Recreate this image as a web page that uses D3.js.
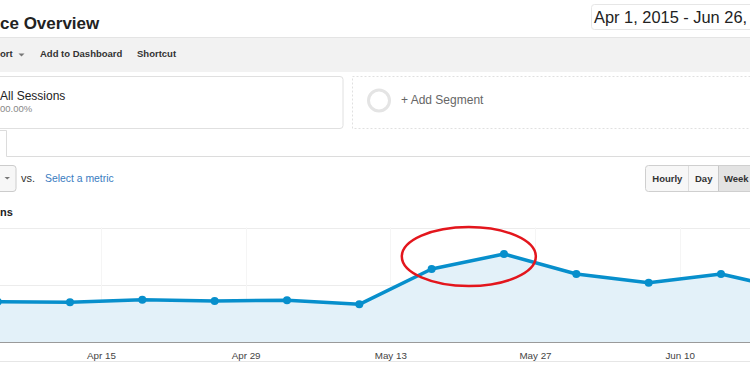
<!DOCTYPE html>
<html>
<head>
<meta charset="utf-8">
<script src="https://cdn.jsdelivr.net/npm/d3@7/dist/d3.min.js"></script>
<style>
  html, body { margin: 0; padding: 0; background: #fff; overflow: hidden; }
  svg { display: block; font-family: Arial, "Liberation Sans", sans-serif; }
</style>
</head>
<body>
<svg id="chart" width="750" height="366"></svg>
<script>
// ---- data ----
const weekStarts = ["2015-04-01","2015-04-05","2015-04-12","2015-04-19","2015-04-26","2015-05-03",
                    "2015-05-10","2015-05-17","2015-05-24","2015-05-31","2015-06-07","2015-06-14","2015-06-21"];
const sessions   = [45, 71, 70, 74.4, 72.2, 73.4, 66.4, 127.8, 153.9, 119.1, 104, 119.1, 90.3];
const tickDates  = ["2015-04-15","2015-04-29","2015-05-13","2015-05-27","2015-06-10"];
const tickLabels = ["Apr 15","Apr 29","May 13","May 27","Jun 10"];
const yTicks     = [100, 200];
const dateRange  = ["2015-04-01","2015-06-26"];

const parse = d3.utcParse("%Y-%m-%d");
const data = weekStarts.map((d, i) => ({ date: parse(d), value: sessions[i] }));

const svg = d3.select("#chart");

// ---- page chrome ----
svg.append("text").attr("x", 0).attr("y", 29).attr("font-size", 17).attr("font-weight", "bold")
   .attr("fill", "#222").text("ce Overview");

svg.append("rect").attr("x", 591.5).attr("y", 4.5).attr("width", 180).attr("height", 25).attr("rx", 3)
   .attr("fill", "#fff").attr("stroke", "#e6e6e6");
svg.append("text").attr("x", 594).attr("y", 22.7).attr("font-size", 16.4).attr("fill", "#222")
   .text("Apr 1, 2015 - Jun 26,");

// toolbar
svg.append("rect").attr("x", 0).attr("y", 37).attr("width", 750).attr("height", 35).attr("fill", "#f2f2f2");
svg.append("line").attr("x1", 0).attr("x2", 750).attr("y1", 37.5).attr("y2", 37.5).attr("stroke", "#e4e4e4");
const tb = svg.append("g").attr("font-size", 9.5).attr("font-weight", "bold").attr("fill", "#333");
tb.append("text").attr("x", 0).attr("y", 56.7).text("ort");
tb.append("path").attr("d", "M18.5,53.5 L24.5,53.5 L21.5,56.5 Z").attr("fill", "#777");
tb.append("text").attr("x", 40).attr("y", 56.7).text("Add to Dashboard");
tb.append("text").attr("x", 137).attr("y", 56.7).text("Shortcut");

// segment boxes
svg.append("rect").attr("x", -10).attr("y", 76.5).attr("width", 353).attr("height", 52).attr("rx", 3)
   .attr("fill", "#fff").attr("stroke", "#e0e0e0");
svg.append("text").attr("x", 0).attr("y", 99.5).attr("font-size", 12).attr("fill", "#222").text("All Sessions");
svg.append("text").attr("x", 0).attr("y", 112).attr("font-size", 9.5).attr("fill", "#888").text("00.00%");

svg.append("rect").attr("x", 352.5).attr("y", 76.5).attr("width", 420).attr("height", 52)
   .attr("fill", "none").attr("stroke", "#e0e0e0").attr("stroke-dasharray", "2,2");
svg.append("circle").attr("cx", 379).attr("cy", 100.5).attr("r", 10.5)
   .attr("fill", "none").attr("stroke", "#e4e4e4").attr("stroke-width", 3);
svg.append("text").attr("x", 401).attr("y", 104).attr("font-size", 12).attr("fill", "#666").text("+ Add Segment");

// tab
svg.append("path").attr("d", "M-5,130.5 H6.5 V156.5 H750").attr("fill", "none").attr("stroke", "#dcdcdc");

// metric selector
svg.append("rect").attr("x", -10).attr("y", 165.5).attr("width", 26).attr("height", 26).attr("rx", 3)
   .attr("fill", "#f7f7f7").attr("stroke", "#ccc");
svg.append("path").attr("d", "M4.5,177 L10,177 L7.25,179.5 Z").attr("fill", "#777");
svg.append("text").attr("x", 21).attr("y", 181.7).attr("font-size", 11).attr("fill", "#333").text("vs.");
svg.append("text").attr("x", 45).attr("y", 181.7).attr("font-size", 10.4).attr("fill", "#3a7cbf").text("Select a metric");

// granularity buttons
svg.append("rect").attr("x", 645.5).attr("y", 165.5).attr("width", 130).attr("height", 26).attr("rx", 3)
   .attr("fill", "#f7f7f7").attr("stroke", "#cfcfcf");
svg.append("rect").attr("x", 718.5).attr("y", 166).attr("width", 60).attr("height", 25).attr("fill", "#e3e3e3");
svg.append("line").attr("x1", 688.5).attr("x2", 688.5).attr("y1", 166).attr("y2", 191).attr("stroke", "#ddd");
svg.append("line").attr("x1", 718.5).attr("x2", 718.5).attr("y1", 166).attr("y2", 191).attr("stroke", "#c8c8c8");
const bt = svg.append("g").attr("font-size", 9.5).attr("font-weight", "bold").attr("fill", "#333");
bt.append("text").attr("x", 652.3).attr("y", 182).text("Hourly");
bt.append("text").attr("x", 695).attr("y", 182).text("Day");
bt.append("text").attr("x", 724).attr("y", 182).text("Week");

// metric label
svg.append("text").attr("x", 0).attr("y", 216).attr("font-size", 11).attr("font-weight", "bold")
   .attr("fill", "#222").text("ns");

// ---- chart ----
const x = d3.scaleUtc().domain(dateRange.map(parse)).range([-43.7, 845]);
const y = d3.scaleLinear().domain([0, 200]).range([342.5, 227.5]);

const grid = svg.append("g");
grid.selectAll("line.h").data(yTicks).join("line").attr("class", "h")
  .attr("x1", 0).attr("x2", 750).attr("y1", d => Math.round(y(d)) + 0.5).attr("y2", d => Math.round(y(d)) + 0.5)
  .attr("stroke", "#ececec");
grid.selectAll("line.v").data(tickDates.map(parse)).join("line").attr("class", "v")
  .attr("x1", d => Math.round(x(d)) + 0.5).attr("x2", d => Math.round(x(d)) + 0.5)
  .attr("y1", y(200)).attr("y2", y(0)).attr("stroke", "#f5f5f5");

const area = d3.area().x(d => x(d.date)).y0(y(0)).y1(d => y(d.value));
const line = d3.line().x(d => x(d.date)).y(d => y(d.value));

svg.append("path").datum(data).attr("d", area).attr("fill", "#e3f1f9");
svg.append("path").datum(data).attr("d", line).attr("fill", "none")
   .attr("stroke", "#078fcc").attr("stroke-width", 3.5).attr("stroke-linejoin", "round");
svg.append("g").selectAll("circle").data(data).join("circle")
   .attr("cx", d => x(d.date)).attr("cy", d => y(d.value)).attr("r", 4).attr("fill", "#078fcc");

const xAxis = d3.axisBottom(x).tickValues(tickDates.map(parse))
  .tickFormat((d, i) => tickLabels[i]).tickSize(0).tickPadding(10);
const ax = svg.append("g").attr("transform", `translate(0,${y(0)})`).call(xAxis);
ax.select(".domain").remove();
ax.selectAll("text").attr("font-size", 9.8).attr("fill", "#444").attr("font-family", "Arial, 'Liberation Sans', sans-serif");
svg.append("line").attr("x1", 0).attr("x2", 750).attr("y1", 342.5).attr("y2", 342.5).attr("stroke", "#9a9a9a");
svg.append("line").attr("x1", 0).attr("x2", 750).attr("y1", 361.5).attr("y2", 361.5).attr("stroke", "#e6e6e6");

// annotation ellipse around the peak
const peak = data[7], peak2 = data[8];
svg.append("ellipse")
   .attr("cx", (x(peak.date) + x(peak2.date)) / 2 + 1).attr("cy", (y(peak.value) + y(peak2.value)) / 2 - 5)
   .attr("rx", 67).attr("ry", 29.5)
   .attr("fill", "none").attr("stroke", "#e3161d").attr("stroke-width", 2.5);
</script>
</body>
</html>
